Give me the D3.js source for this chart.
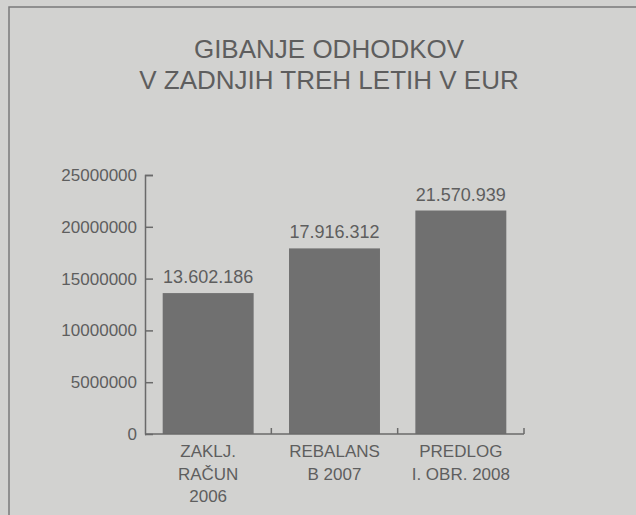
<!DOCTYPE html>
<meta charset="utf-8" />
<script src="https://d3js.org/d3.v7.js"></script>
<style>
  body { margin: 0; background: #d2d2d0; }
  text { font-family: "Liberation Sans", Arial, sans-serif; }
</style>
<div id="chart"></div>
<script>
  // data
  const categories = [
    ["ZAKLJ.", "RAČUN", "2006"],
    ["REBALANS", "B 2007"],
    ["PREDLOG", "I. OBR. 2008"]
  ];
  const values = [13602186, 17916312, 21570939];
  const yTicks = [0, 5000000, 10000000, 15000000, 20000000, 25000000];
  const titleLines = ["GIBANJE ODHODKOV", "V ZADNJIH TREH LETIH V EUR"];

  const width = 636;
  const height = 515;
  const textColor = "#5e5e5e";
  const axisColor = "#6a6a6a";

  const svg = d3
    .select("#chart")
    .append("svg")
    .attr("width", width)
    .attr("height", height);

  svg.append("rect")
    .attr("width", width)
    .attr("height", height)
    .attr("fill", "#d2d2d0");

  // frame (only top & left edges are visible in the scan)
  svg.append("path")
    .attr("d", "M9," + height + " V7 H" + width)
    .attr("fill", "none")
    .attr("stroke", "#7a7a7a")
    .attr("stroke-width", 1.5);

  // title
  svg.selectAll(".title")
    .data(titleLines)
    .join("text")
    .attr("class", "title")
    .attr("x", 329)
    .attr("y", (d, i) => 58 + i * 31)
    .attr("text-anchor", "middle")
    .style("font-size", "26px")
    .style("fill", textColor)
    .text((d) => d);

  const idx = values.map((d, i) => i);

  const x = d3.scaleBand()
    .domain(idx)
    .range([145, 524])
    .paddingInner(0.28)
    .paddingOuter(0.14);

  const y = d3.scaleLinear()
    .domain([0, 25000000])
    .range([434, 175]);

  const fmt = d3.formatLocale({
    decimal: ",",
    thousands: ".",
    grouping: [3],
    currency: ["", ""]
  }).format(",");

  // bars
  svg.append("g")
    .selectAll("rect")
    .data(values)
    .join("rect")
    .attr("x", (d, i) => x(i))
    .attr("y", (d) => y(d))
    .attr("width", x.bandwidth())
    .attr("height", (d) => y(0) - y(d))
    .attr("fill", "#707070");

  // value labels
  svg.append("g")
    .selectAll("text")
    .data(values)
    .join("text")
    .attr("x", (d, i) => x(i) + x.bandwidth() / 2)
    .attr("y", (d) => y(d) - 10)
    .attr("text-anchor", "middle")
    .style("font-size", "18px")
    .style("fill", textColor)
    .text((d) => fmt(d));

  // y axis
  const yAxis = svg.append("g")
    .attr("transform", "translate(145,0)")
    .call(d3.axisRight(y).tickValues(yTicks).tickSize(8).tickFormat(""));
  yAxis.select(".domain").attr("d", "M8,175.5H0.5V434.5H0");
  yAxis.selectAll("line, path").attr("stroke", axisColor).attr("stroke-width", 1.5);

  svg.append("g")
    .selectAll("text")
    .data(yTicks)
    .join("text")
    .attr("x", 137)
    .attr("y", (d) => y(d) + 6)
    .attr("text-anchor", "end")
    .style("font-size", "17px")
    .style("fill", textColor)
    .text((d) => d3.format("d")(d));

  // x axis: ticks at the band edges, pointing up
  const edges = idx.map((i) => x(i) + x.bandwidth() + (x.step() - x.bandwidth()) / 2);
  const xAxis = svg.append("g");
  xAxis.append("line")
    .attr("x1", 145)
    .attr("x2", edges[edges.length - 1])
    .attr("y1", y(0))
    .attr("y2", y(0))
    .attr("stroke", axisColor)
    .attr("stroke-width", 1.5);
  xAxis.selectAll(".tk")
    .data(edges)
    .join("line")
    .attr("class", "tk")
    .attr("x1", (d) => d)
    .attr("x2", (d) => d)
    .attr("y1", y(0))
    .attr("y2", y(0) - 6)
    .attr("stroke", axisColor)
    .attr("stroke-width", 1.5);

  // category labels
  categories.forEach((lines, i) => {
    svg.append("g")
      .selectAll("text")
      .data(lines)
      .join("text")
      .attr("x", x(i) + x.bandwidth() / 2)
      .attr("y", (d, j) => 457 + j * 22.5)
      .attr("text-anchor", "middle")
      .style("font-size", "17px")
      .style("fill", textColor)
      .text((d) => d);
  });
</script>
